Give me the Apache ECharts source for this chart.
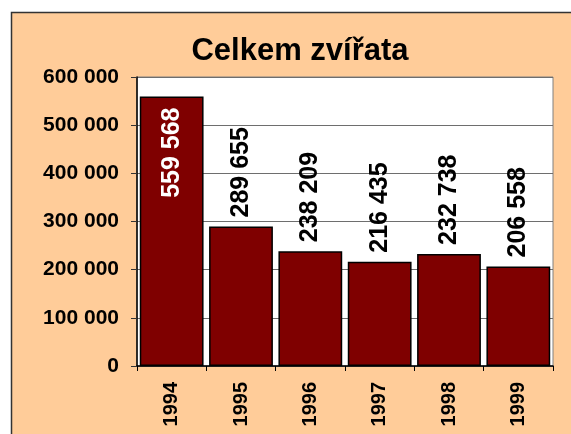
<!DOCTYPE html>
<html>
<head>
<meta charset="utf-8">
<script src="https://cdn.jsdelivr.net/npm/echarts@6/dist/echarts.min.js"></script>
<style>
  html, body { margin: 0; padding: 0; background: #ffffff; }
  #chart { width: 571px; height: 434px; }
</style>
</head>
<body>
<div id="chart"></div>
<script>
// Livestock totals per year
const years = ['1994', '1995', '1996', '1997', '1998', '1999'];
const totals = [559568, 289655, 238209, 216435, 232738, 206558];
const yTicks = [0, 100000, 200000, 300000, 400000, 500000, 600000];

const FONT = '"Liberation Sans", Arial, sans-serif';

// Format numbers with a space as thousands separator, e.g. 559 568
function spaced(n) {
  return String(n).replace(/\B(?=(\d{3})+(?!\d))/g, ' ');
}

const barData = totals.map(function (v, i) {
  if (i === 0) {
    // tallest bar carries its value inside, in white
    return {
      value: v,
      label: {
        position: 'insideTop',
        align: 'right',
        color: '#ffffff',
        distance: 11
      }
    };
  }
  return { value: v };
});

const chart = echarts.init(document.getElementById('chart'), null, { renderer: 'canvas' });

chart.setOption({
  backgroundColor: '#ffffff',
  animation: false,
  graphic: [{
    type: 'rect',
    z: -10,
    shape: { x: 11.5, y: 12.5, width: 570, height: 430 },
    style: { fill: '#FFCC99', stroke: '#333333', lineWidth: 1.5 }
  }],
  title: {
    text: 'Celkem zvířata',
    left: 295,
    textAlign: 'center',
    top: 31,
    textStyle: { fontFamily: FONT, fontWeight: 'bold', fontSize: 31, color: '#000000' }
  },
  grid: {
    left: 137,
    right: 18,
    top: 77,
    bottom: 68,
    show: true,
    backgroundColor: '#ffffff',
    borderColor: '#808080',
    borderWidth: 1
  },
  xAxis: {
    type: 'category',
    data: years,
    axisLine: { lineStyle: { color: '#000000', width: 1.5 } },
    axisTick: { show: true, length: 5, lineStyle: { color: '#000000' } },
    axisLabel: {
      rotate: 90,
      margin: 16,
      fontFamily: FONT,
      fontWeight: 'bold',
      fontSize: 20,
      color: '#000000'
    }
  },
  yAxis: {
    type: 'value',
    min: yTicks[0],
    max: yTicks[yTicks.length - 1],
    interval: yTicks[1] - yTicks[0],
    axisLine: { show: true, lineStyle: { color: '#000000', width: 1.5 } },
    axisTick: { show: true, length: 6, lineStyle: { color: '#333333' } },
    splitLine: { show: true, lineStyle: { color: '#6e6e6e', width: 1 } },
    axisLabel: {
      margin: 18,
      fontFamily: FONT,
      fontWeight: 'bold',
      fontSize: 21,
      color: '#000000',
      formatter: function (v) { return spaced(v); }
    }
  },
  series: [{
    type: 'bar',
    data: barData,
    barCategoryGap: '8%',
    itemStyle: { color: '#7f0000', borderColor: '#000000', borderWidth: 1.5 },
    label: {
      show: true,
      position: 'top',
      rotate: 90,
      align: 'left',
      verticalAlign: 'middle',
      distance: 9,
      fontFamily: FONT,
      fontWeight: 'bold',
      fontSize: 25,
      color: '#000000',
      formatter: function (p) { return spaced(p.value); }
    }
  }]
});
</script>
</body>
</html>
